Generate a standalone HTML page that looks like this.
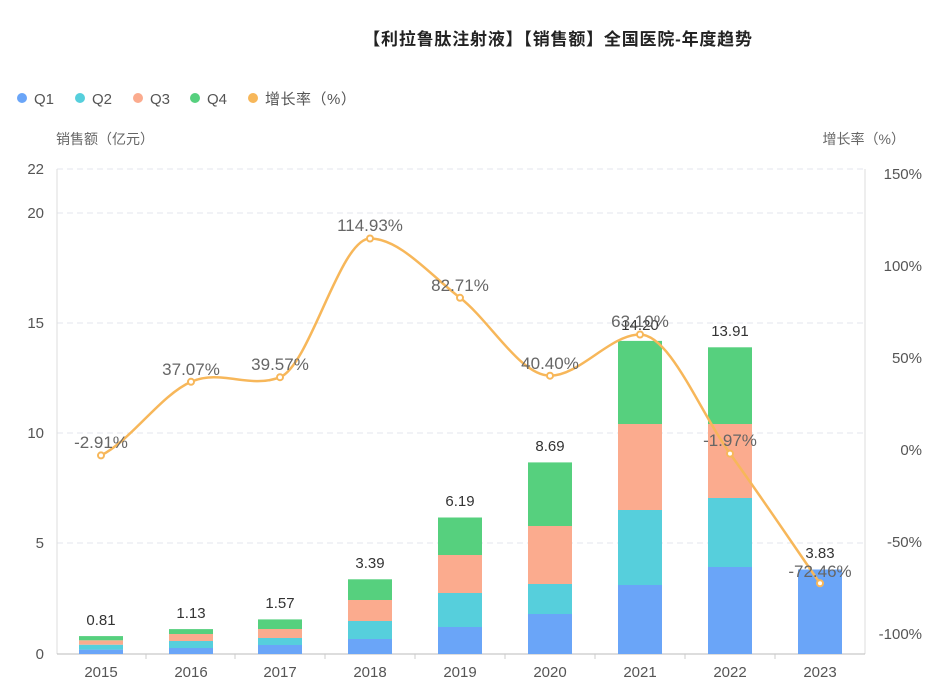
<!DOCTYPE html>
<html><head><meta charset="utf-8"><style>
body{margin:0;background:#fff;}
svg text{font-family:"Liberation Sans","Noto Sans CJK SC",sans-serif;}
</style></head><body>
<svg width="942" height="688" xmlns="http://www.w3.org/2000/svg">
<text x="558" y="45" text-anchor="middle" font-size="17" font-weight="bold" fill="#222" letter-spacing="0.8">【利拉鲁肽注射液】【销售额】全国医院-年度趋势</text>
<g font-size="15" fill="#555">
<circle cx="22" cy="98" r="5" fill="#6aa5f8"/><text x="34" y="104">Q1</text>
<circle cx="80" cy="98" r="5" fill="#56cfdc"/><text x="92" y="104">Q2</text>
<circle cx="138" cy="98" r="5" fill="#fbab8e"/><text x="150" y="104">Q3</text>
<circle cx="195" cy="98" r="5" fill="#56d07e"/><text x="207" y="104">Q4</text>
<circle cx="253" cy="98" r="5" fill="#f7b75a"/><text x="265" y="104" letter-spacing="0.5">增长率（%）</text>
</g>
<text x="56" y="144" font-size="14" fill="#666">销售额（亿元）</text>
<text x="905" y="144" font-size="14" fill="#666" text-anchor="end">增长率（%）</text>
<g stroke="#e3e6ec" stroke-dasharray="6,4" stroke-width="1">
<line x1="57" x2="865" y1="169" y2="169"/><line x1="57" x2="865" y1="213" y2="213"/>
<line x1="57" x2="865" y1="323" y2="323"/><line x1="57" x2="865" y1="433" y2="433"/>
<line x1="57" x2="865" y1="543" y2="543"/>
</g>
<line x1="57" x2="57" y1="169" y2="654" stroke="#ddd"/>
<line x1="865" x2="865" y1="169" y2="654" stroke="#ddd"/>
<line x1="57" x2="865" y1="654" y2="654" stroke="#bbb"/>
<g font-size="15" fill="#555" text-anchor="end">
<text x="44" y="174">22</text><text x="44" y="218">20</text><text x="44" y="328">15</text>
<text x="44" y="438">10</text><text x="44" y="548">5</text><text x="44" y="659">0</text>
</g>
<g font-size="15" fill="#555" text-anchor="end">
<text x="922" y="179">150%</text><text x="922" y="271">100%</text><text x="922" y="363">50%</text>
<text x="922" y="455">0%</text><text x="922" y="547">-50%</text><text x="922" y="639">-100%</text>
</g>
<g font-size="15" fill="#555" text-anchor="middle">
<text x="101" y="677">2015</text><text x="191" y="677">2016</text><text x="280" y="677">2017</text>
<text x="370" y="677">2018</text><text x="460" y="677">2019</text><text x="550" y="677">2020</text>
<text x="640" y="677">2021</text><text x="730" y="677">2022</text><text x="820" y="677">2023</text>
</g>
<g stroke="#ccc">
<line x1="146" x2="146" y1="654" y2="659"/><line x1="235" x2="235" y1="654" y2="659"/>
<line x1="325" x2="325" y1="654" y2="659"/><line x1="415" x2="415" y1="654" y2="659"/>
<line x1="505" x2="505" y1="654" y2="659"/><line x1="595" x2="595" y1="654" y2="659"/>
<line x1="685" x2="685" y1="654" y2="659"/><line x1="775" x2="775" y1="654" y2="659"/>
</g>
<g>
<rect x="79" y="649.6" width="44" height="4.4" fill="#6aa5f8"/><rect x="79" y="644.7" width="44" height="4.9" fill="#56cfdc"/><rect x="79" y="640.3" width="44" height="4.4" fill="#fbab8e"/><rect x="79" y="636.1" width="44" height="4.2" fill="#56d07e"/>
<rect x="169" y="648" width="44" height="6" fill="#6aa5f8"/><rect x="169" y="641" width="44" height="7" fill="#56cfdc"/><rect x="169" y="634" width="44" height="7" fill="#fbab8e"/><rect x="169" y="629.1" width="44" height="4.9" fill="#56d07e"/>
<rect x="258" y="645" width="44" height="9" fill="#6aa5f8"/><rect x="258" y="638" width="44" height="7" fill="#56cfdc"/><rect x="258" y="629" width="44" height="9" fill="#fbab8e"/><rect x="258" y="619.4" width="44" height="9.6" fill="#56d07e"/>
<rect x="348" y="639" width="44" height="15" fill="#6aa5f8"/><rect x="348" y="621" width="44" height="18" fill="#56cfdc"/><rect x="348" y="600" width="44" height="21" fill="#fbab8e"/><rect x="348" y="579.3" width="44" height="20.7" fill="#56d07e"/>
<rect x="438" y="627" width="44" height="27" fill="#6aa5f8"/><rect x="438" y="593" width="44" height="34" fill="#56cfdc"/><rect x="438" y="555" width="44" height="38" fill="#fbab8e"/><rect x="438" y="517.5" width="44" height="37.5" fill="#56d07e"/>
<rect x="528" y="614" width="44" height="40" fill="#6aa5f8"/><rect x="528" y="584" width="44" height="30" fill="#56cfdc"/><rect x="528" y="526" width="44" height="58" fill="#fbab8e"/><rect x="528" y="462.4" width="44" height="63.6" fill="#56d07e"/>
<rect x="618" y="585" width="44" height="69" fill="#6aa5f8"/><rect x="618" y="510" width="44" height="75" fill="#56cfdc"/><rect x="618" y="424" width="44" height="86" fill="#fbab8e"/><rect x="618" y="340.9" width="44" height="83.1" fill="#56d07e"/>
<rect x="708" y="567" width="44" height="87" fill="#6aa5f8"/><rect x="708" y="498" width="44" height="69" fill="#56cfdc"/><rect x="708" y="424" width="44" height="74" fill="#fbab8e"/><rect x="708" y="347.3" width="44" height="76.7" fill="#56d07e"/>
<rect x="798" y="569.5" width="44" height="84.5" fill="#6aa5f8"/>
</g>
<g font-size="15" fill="#333" text-anchor="middle">
<text x="101" y="625">0.81</text><text x="191" y="618">1.13</text><text x="280" y="608">1.57</text>
<text x="370" y="568">3.39</text><text x="460" y="506">6.19</text><text x="550" y="451">8.69</text>
<text x="640" y="330">14.20</text><text x="730" y="336">13.91</text><text x="820" y="558">3.83</text>
</g>
<path d="M101,455.4 C131,440.4 161,394.8 191,381.8 C221,368.8 250,389.2 280,377.2 C310,365.2 340,238.5 370,238.5 C400,238.5 430,274.9 460,297.8 C490,320.7 520,375.7 550,375.7 C580,375.7 610,334.5 640,334.5 C670,334.5 700,412.1 730,453.6 C760,495.1 790,540.1 820,583.3" fill="none" stroke="#f7b75a" stroke-width="2.5"/>
<g fill="#fff" stroke="#f7b75a" stroke-width="2">
<circle cx="101" cy="455.4" r="3"/><circle cx="191" cy="381.8" r="3"/><circle cx="280" cy="377.2" r="3"/>
<circle cx="370" cy="238.5" r="3"/><circle cx="460" cy="297.8" r="3"/><circle cx="550" cy="375.7" r="3"/>
<circle cx="640" cy="334.5" r="3"/><circle cx="730" cy="453.6" r="3"/><circle cx="820" cy="583.3" r="3"/>
</g>
<g font-size="17" fill="#666" text-anchor="middle">
<text x="101" y="448">-2.91%</text><text x="191" y="375">37.07%</text><text x="280" y="370">39.57%</text>
<text x="370" y="231">114.93%</text><text x="460" y="291">82.71%</text><text x="550" y="369">40.40%</text>
<text x="640" y="327">63.10%</text><text x="730" y="446">-1.97%</text><text x="820" y="577">-72.46%</text>
</g>
</svg>
</body></html>
